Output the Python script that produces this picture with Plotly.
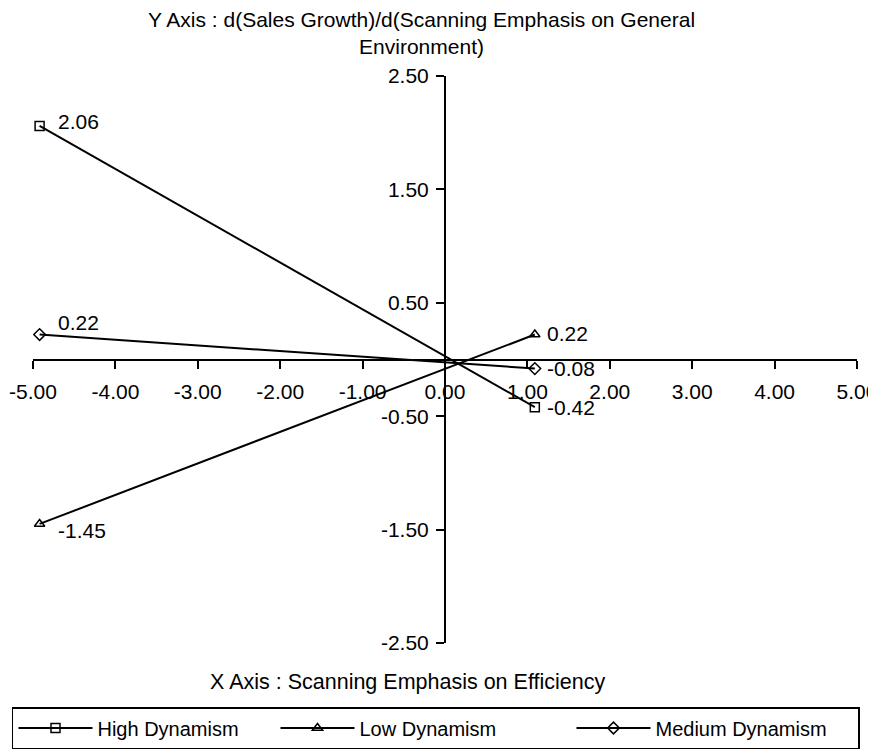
import plotly.graph_objects as go

# ---- data ----
x_levels = [-4.92, 1.09]
high_dyn = [2.06, -0.42]
low_dyn = [-1.45, 0.22]
med_dyn = [0.22, -0.08]
series_names = ["High Dynamism", "Low Dynamism", "Medium Dynamism"]
x_ticks = [-5, -4, -3, -2, -1, 0, 1, 2, 3, 4, 5]
y_ticks = [-2.5, -1.5, -0.5, 0.5, 1.5, 2.5]

# ---- styling ----
FONT = "Liberation Sans, Arial, Helvetica, sans-serif"
FS = 21
LFS = 20
symbols = ["square-open", "triangle-up-open", "diamond-open"]
legend_widths = [173, 207, 198]
# label offsets (px) per series per point: (xshift, yshift)
label_shifts = [
    [(16, 4), (10, 0)],
    [(16, -7), (10, 1)],
    [(16, 12), (10, 0)],
]

fig = go.Figure()
all_series = [high_dyn, low_dyn, med_dyn]
for name, ys, sym, lw in zip(series_names, all_series, symbols, legend_widths):
    fig.add_trace(go.Scatter(
        x=x_levels, y=ys, name=name, mode="lines+markers",
        line=dict(color="black", width=2),
        marker=dict(symbol=sym, size=9, color="black", line=dict(width=1.5, color="black")),
        legendwidth=lw,
    ))

annotations = []
for ys, shifts in zip(all_series, label_shifts):
    for xv, yv, (dx, dy) in zip(x_levels, ys, shifts):
        annotations.append(dict(
            x=xv, y=yv, xref="x", yref="y", text=f"{yv:.2f}", showarrow=False,
            xanchor="left", yanchor="middle", xshift=dx, yshift=dy,
            font=dict(family=FONT, size=FS, color="black"),
        ))

annotations.append(dict(
    x=0.472, y=1.076, xref="paper", yref="paper", showarrow=False,
    text="Y Axis : d(Sales Growth)/d(Scanning Emphasis on General<br>Environment)",
    xanchor="center", yanchor="middle", align="center",
    font=dict(family=FONT, size=FS, color="black"),
))
annotations.append(dict(
    x=0.454, y=-0.0688, xref="paper", yref="paper", showarrow=False,
    text="X Axis : Scanning Emphasis on Efficiency",
    xanchor="center", yanchor="middle",
    font=dict(family=FONT, size=21.5, color="black"),
))

fig.update_layout(
    width=876, height=751,
    margin=dict(l=25, r=27, t=68, b=116, autoexpand=False),
    paper_bgcolor="white", plot_bgcolor="white",
    font=dict(family=FONT, size=FS, color="black"),
    showlegend=True,
    legend=dict(
        orientation="h", x=-0.0255, xanchor="left", y=-0.1129, yanchor="top",
        bordercolor="black", borderwidth=1.5, bgcolor="white",
        itemwidth=74, entrywidth=190, entrywidthmode="pixels",
        font=dict(family=FONT, size=LFS, color="black"),
    ),
    annotations=annotations,
)
fig.update_xaxes(
    range=[-5, 5], tickvals=x_ticks, ticktext=[f"{v:.2f}" for v in x_ticks],
    showgrid=False, zeroline=False, showline=True, linecolor="black", linewidth=2,
    ticks="outside", ticklen=8, tickwidth=2, tickcolor="black",
    anchor="free", position=0.5, side="bottom", ticklabelstandoff=5,
    tickfont=dict(family=FONT, size=FS, color="black"),
)
fig.update_yaxes(
    range=[-2.5, 2.5], tickvals=y_ticks, ticktext=[f"{v:.2f}" for v in y_ticks],
    showgrid=False, zeroline=False, showline=True, linecolor="black", linewidth=2,
    ticks="outside", ticklen=8, tickwidth=2, tickcolor="black",
    anchor="free", position=0.5, side="left", ticklabelstandoff=3,
    tickfont=dict(family=FONT, size=FS, color="black"),
)

fig.write_html("out.html")
